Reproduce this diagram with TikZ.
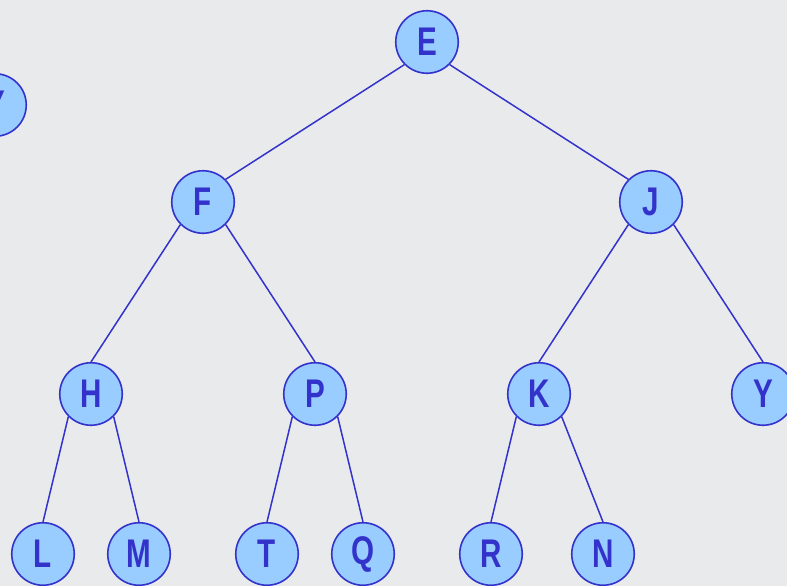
\documentclass[tikz,border=0pt]{standalone}
\usepackage{fontspec}
\setmainfont{Liberation Sans}
\newfontfamily\nodefont[FakeStretch=0.74]{Liberation Sans}
\definecolor{bg}{HTML}{E9EAEC}
\definecolor{nfill}{HTML}{99CCFF}
\definecolor{nline}{HTML}{3333CC}
\begin{document}
\begin{tikzpicture}[x=1pt,y=-1pt,
  tn/.style={circle,draw=nline,fill=nfill,line width=1.6pt,minimum size=62.5pt,inner sep=0pt,
    text=nline,font=\nodefont\bfseries\fontsize{40}{40}\selectfont},
  edge/.style={draw=nline,line width=1.5pt}]
\fill[bg] (0,0) rectangle (787,586);
\useasboundingbox (0,0) rectangle (787,586);
\node[tn] (Y0) at (-5,105) {Y};
\node[tn] (E) at (427,42) {E};
\node[tn] (F) at (203,202) {F};
\node[tn] (J) at (651,202) {J};
\node[tn] (H) at (91,394) {H};
\node[tn] (P) at (315,394) {P};
\node[tn] (K) at (539,394) {K};
\node[tn] (Y) at (763,394) {Y};
\node[tn] (L) at (43,554) {L};
\node[tn] (M) at (139,554) {M};
\node[tn] (T) at (267,554) {T};
\node[tn] (Q) at (363,554) {Q};
\node[tn] (R) at (491,554) {R};
\node[tn] (N) at (603,554) {N};
\path[edge] (E.south west) -- (F.north east);
\path[edge] (E.south east) -- (J.north west);
\path[edge] (F.south west) -- (H.north);
\path[edge] (F.south east) -- (P.north);
\path[edge] (J.south west) -- (K.north);
\path[edge] (J.south east) -- (Y.north);
\path[edge] (H.south west) -- (L.north);
\path[edge] (H.south east) -- (M.north);
\path[edge] (P.south west) -- (T.north);
\path[edge] (P.south east) -- (Q.north);
\path[edge] (K.south west) -- (R.north);
\path[edge] (K.south east) -- (N.north);
\end{tikzpicture}
\end{document}
